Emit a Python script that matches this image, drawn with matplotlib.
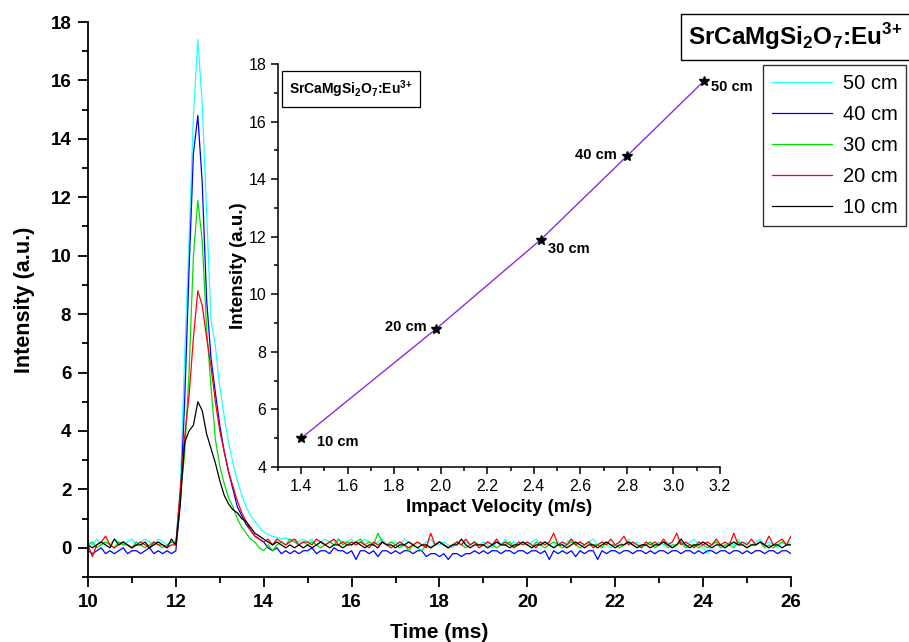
import matplotlib
matplotlib.use("Agg")
import matplotlib.pyplot as plt
import numpy as np
from matplotlib.ticker import MultipleLocator

plt.rcParams["font.family"] = ["Liberation Sans", "DejaVu Sans"]
plt.rcParams["mathtext.fontset"] = "custom"
plt.rcParams["mathtext.rm"] = "Liberation Sans"
plt.rcParams["mathtext.bf"] = "Liberation Sans:bold"

# time axis of the recorded pulses (ms), 0.1 ms sampling
time_ms = np.round(np.linspace(10.0, 26.0, 161), 1)

# intensity traces (a.u.) for each drop height
i_50cm = [
    0.2, 0.1, 0.3, 0.1, 0.2, 0.1, 0.3, 0.2, 0.1, 0.2, 0.3, 0.1, 0.2, 0.3, 0.2, 0.1, 0.3, 0.2, 0.1, 0.2,
    0.2, 2.0, 6.5, 10.5, 14.8, 17.4, 15.2, 11.5, 7.8, 6.9, 5.5, 4.5, 3.6, 2.9, 2.3, 1.8, 1.4, 1.1, 0.9, 0.7,
    0.55, 0.45, 0.4, 0.35, 0.3, 0.35, 0.25, 0.3, 0.2, 0.3,
    0.2, 0.3, 0.1, 0.2, 0.3, 0.2, 0.1, 0.3, 0.2, 0.2,
    0.3, 0.1, 0.2, 0.3, 0.2, 0.1, 0.2, 0.3, 0.1, 0.2,
    0.2, 0.1, 0.3, 0.2, 0.1, 0.2, 0.1, 0.2, 0.3, 0.1,
    0.1, 0.2, 0.1, 0.0, 0.2, 0.1, 0.2, 0.1, 0.2, 0.1,
    0.2, 0.1, 0.0, 0.2, 0.1, 0.3, 0.1, 0.2, 0.1, 0.2,
    0.1, 0.2, 0.3, 0.1, 0.2, 0.1, 0.0, 0.2, 0.1, 0.2,
    0.3, 0.1, 0.2, 0.1, 0.2, 0.3, 0.1, 0.2, 0.1, 0.0,
    0.1, 0.2, 0.1, 0.3, 0.1, 0.2, 0.0, 0.1, 0.2, 0.1,
    0.2, 0.1, 0.2, 0.0, 0.1, 0.2, 0.1, 0.2, 0.3, 0.1,
    0.0, -0.2, 0.1, 0.2, 0.1, 0.0, 0.2, 0.1, 0.3, 0.1,
    0.2, 0.1, 0.2, 0.3, 0.1, 0.2, 0.1, 0.0, 0.2, 0.1,
    0.2,
]
i_40cm = [
    -0.1, -0.2, -0.1, 0.0, -0.2, -0.1, -0.2, -0.1, 0.0, -0.2, -0.1, -0.1, -0.2, -0.1, 0.0, -0.2, -0.1, -0.2, -0.1, -0.2,
    -0.1, 1.5, 5.0, 9.5, 13.5, 14.8, 12.5, 8.5, 6.5, 5.3, 4.2, 3.3, 2.6, 2.0, 1.4, 1.1, 0.8, 0.6, 0.4, 0.3,
    0.2, 0.0, -0.1, 0.0, -0.2, -0.1, -0.2, -0.1, -0.2, -0.1,
    -0.1, 0.0, -0.2, -0.1, -0.1, -0.2, 0.0, -0.1, -0.1, -0.2,
    -0.1, -0.4, -0.1, -0.1, -0.2, -0.1, -0.3, -0.1, -0.1, -0.2,
    -0.1, -0.2, -0.1, -0.1, -0.2, -0.1, -0.1, -0.3, -0.2, -0.2,
    -0.3, -0.2, -0.4, -0.2, -0.2, -0.3, -0.2, -0.2, -0.1, -0.2,
    -0.1, -0.2, -0.1, -0.1, -0.2, -0.1, -0.1, -0.2, -0.1, -0.1,
    -0.2, -0.1, -0.1, -0.2, -0.1, -0.4, -0.1, -0.2, -0.1, -0.2,
    -0.1, -0.3, -0.1, -0.2, -0.1, -0.1, -0.4, -0.1, -0.2, -0.1,
    -0.1, -0.2, -0.1, -0.1, -0.2, -0.1, -0.1, -0.2, -0.1, -0.2,
    -0.1, -0.1, -0.2, -0.1, -0.1, -0.2, -0.1, -0.1, -0.2, -0.1,
    -0.2, -0.1, -0.1, -0.2, -0.1, -0.1, -0.2, -0.1, -0.1, -0.2,
    -0.1, -0.2, -0.1, -0.1, -0.2, -0.1, -0.1, -0.2, -0.1, -0.1,
    -0.2,
]
i_30cm = [
    0.1, 0.2, 0.0, 0.1, 0.2, 0.1, 0.0, 0.2, 0.1, 0.1, 0.0, 0.2, 0.1, 0.0, 0.1, 0.2, 0.1, 0.0, 0.1, 0.2,
    0.1, 1.8, 3.2, 6.0, 10.0, 11.9, 10.5, 7.5, 5.5, 3.7, 2.8, 2.2, 1.7, 1.4, 1.0, 0.7, 0.5, 0.3, 0.2, 0.0,
    -0.1, 0.1, -0.1, 0.1, 0.2, 0.1, 0.3, 0.2, 0.1, 0.2,
    0.1, 0.2, 0.1, 0.0, 0.1, 0.2, 0.1, 0.3, 0.1, 0.2,
    0.1, 0.2, 0.3, 0.1, 0.2, 0.1, 0.5, 0.2, 0.1, 0.2,
    0.1, 0.0, 0.1, -0.1, 0.1, 0.0, -0.1, 0.1, 0.0, 0.1,
    0.2, 0.1, 0.0, 0.1, 0.2, 0.1, 0.0, 0.1, 0.2, 0.1,
    0.1, 0.2, 0.1, 0.0, 0.1, 0.1, 0.2, 0.0, 0.1, 0.2,
    0.1, 0.0, 0.2, 0.1, 0.0, 0.1, 0.2, 0.1, 0.0, 0.1,
    0.2, 0.1, 0.0, 0.1, 0.2, 0.1, 0.1, 0.0, 0.2, 0.1,
    0.1, 0.0, 0.1, 0.2, 0.1, 0.0, 0.1, 0.1, 0.2, 0.0,
    0.1, 0.2, 0.0, 0.1, 0.1, 0.2, 0.0, 0.1, 0.1, 0.0,
    0.1, 0.0, 0.1, 0.2, 0.0, 0.1, 0.1, 0.0, 0.2, 0.1,
    0.0, 0.1, 0.1, 0.2, 0.0, 0.1, 0.0, 0.1, 0.2, 0.1,
    0.1,
]
i_20cm = [
    0.1, -0.3, 0.1, 0.2, 0.4, 0.1, 0.0, 0.1, 0.2, 0.1, 0.0, 0.1, 0.2, 0.1, 0.0, 0.2, 0.1, 0.1, 0.0, 0.1,
    0.1, 2.0, 3.8, 5.2, 7.2, 8.8, 8.3, 7.2, 6.2, 5.0, 4.0, 3.3, 2.6, 2.1, 1.6, 1.2, 0.9, 0.6, 0.4, 0.3,
    0.2, 0.3, 0.1, 0.3, 0.2, 0.1, 0.2, 0.3, 0.1, 0.2,
    0.2, 0.1, 0.3, 0.2, 0.1, 0.2, 0.3, 0.1, 0.2, 0.1,
    0.2, 0.1, 0.2, 0.1, 0.0, 0.2, 0.1, 0.2, 0.1, 0.0,
    0.1, 0.2, 0.1, 0.0, 0.1, 0.2, 0.1, 0.0, 0.5, 0.1,
    0.2, 0.1, 0.0, 0.1, 0.2, 0.1, 0.3, 0.1, 0.2, 0.0,
    0.1, 0.2, 0.1, 0.3, 0.1, 0.2, 0.1, 0.0, 0.2, 0.1,
    0.2, 0.1, 0.0, 0.2, 0.1, 0.2, 0.5, 0.1, 0.2, 0.1,
    0.3, 0.1, 0.2, 0.1, 0.2, 0.0, 0.1, 0.2, 0.1, 0.3,
    0.1, 0.2, 0.4, 0.1, 0.2, 0.1, 0.0, 0.2, 0.1, 0.2,
    0.1, 0.3, 0.1, 0.2, 0.5, 0.1, 0.2, 0.1, 0.0, 0.2,
    0.1, 0.2, 0.1, 0.3, 0.1, 0.2, 0.1, 0.5, 0.1, 0.2,
    0.1, 0.3, 0.1, 0.2, 0.1, 0.4, 0.1, 0.2, 0.3, 0.1,
    0.4,
]
i_10cm = [
    0.1, 0.0, 0.1, 0.2, 0.1, 0.0, 0.3, 0.1, 0.2, 0.1, 0.0, 0.1, 0.1, 0.2, 0.0, 0.1, 0.2, 0.1, 0.0, 0.3,
    0.1, 1.5, 3.6, 4.0, 4.2, 5.0, 4.7, 3.9, 3.4, 2.9, 2.3, 1.8, 1.5, 1.3, 1.2, 1.0, 0.9, 0.7, 0.5, 0.4,
    0.3, 0.2, 0.1, 0.2, 0.1, 0.0, 0.1, 0.0, 0.1, 0.0,
    0.1, 0.0, 0.1, 0.2, 0.1, 0.0, 0.1, 0.1, 0.0, 0.1,
    0.1, 0.2, 0.1, 0.0, 0.1, 0.1, 0.0, 0.2, 0.1, 0.1,
    0.0, 0.1, 0.1, 0.2, 0.1, 0.0, 0.1, 0.1, 0.0, 0.1,
    0.2, 0.1, 0.0, 0.1, 0.1, 0.3, 0.1, 0.0, 0.1, 0.1,
    0.1, 0.0, 0.1, 0.2, 0.1, 0.1, 0.0, 0.1, 0.1, 0.2,
    0.1, 0.0, 0.1, 0.1, 0.2, 0.1, 0.0, 0.1, 0.1, 0.0,
    0.1, 0.2, 0.1, 0.0, 0.1, 0.1, 0.0, 0.1, 0.2, 0.1,
    0.0, 0.1, 0.1, 0.2, 0.1, 0.0, 0.1, 0.1, 0.0, 0.1,
    0.1, 0.2, 0.1, 0.0, 0.1, 0.3, 0.1, 0.0, 0.1, 0.1,
    0.2, 0.1, 0.0, 0.1, 0.1, 0.0, 0.1, 0.2, 0.1, 0.1,
    0.0, 0.1, 0.1, 0.2, 0.1, 0.0, 0.1, 0.1, 0.0, 0.1,
    0.1,
]

series_labels = ["50 cm", "40 cm", "30 cm", "20 cm", "10 cm"]
series_colors = ["#22ffff", "#0000ff", "#00e000", "#ff0000", "#000000"]

# inset: peak intensity versus impact velocity
velocity = [1.40, 1.98, 2.43, 2.80, 3.13]
peak_intensity = [5.0, 8.8, 11.9, 14.8, 17.4]
point_labels = ["10 cm", "20 cm", "30 cm", "40 cm", "50 cm"]

compound = r"SrCaMgSi$_\mathbf{2}$O$_\mathbf{7}$:Eu$^\mathbf{3}$$^\mathbf{+}$"

fig = plt.figure(figsize=(9.09, 6.42), dpi=100)
ax = fig.add_axes([0.0968, 0.1012, 0.7733, 0.8645])

traces = [i_50cm, i_40cm, i_30cm, i_20cm, i_10cm]
for vals, lab, col in zip(traces, series_labels, series_colors):
    ax.plot(time_ms, vals, color=col, lw=0.9, label=lab)

ax.set_xlim(10, 26)
ax.set_ylim(-1, 18)
ax.xaxis.set_major_locator(MultipleLocator(2))
ax.xaxis.set_minor_locator(MultipleLocator(1))
ax.yaxis.set_major_locator(MultipleLocator(2))
ax.yaxis.set_minor_locator(MultipleLocator(1))
for s in ["top", "right"]:
    ax.spines[s].set_visible(False)
for s in ["left", "bottom"]:
    ax.spines[s].set_linewidth(1.3)
ax.tick_params(which="major", length=7, width=1.3, labelsize=13.5, pad=5)
ax.tick_params(which="minor", length=4, width=1.3)
for t in ax.get_xticklabels() + ax.get_yticklabels():
    t.set_fontweight("bold")
ax.set_xlabel("Time (ms)", fontsize=15, fontweight="bold", labelpad=9)
ax.set_ylabel("Intensity (a.u.)", fontsize=15.5, fontweight="bold", labelpad=11)

leg = ax.legend(loc="upper left", bbox_to_anchor=(763 / 909, 1 - 65 / 642),
                bbox_transform=fig.transFigure, fontsize=14.5, frameon=True,
                fancybox=False, edgecolor="black", handlelength=3.0,
                borderpad=0.45, labelspacing=0.6, handletextpad=0.5,
                borderaxespad=0)
leg.get_frame().set_linewidth(1.0)

fig.text(688 / 909, 1 - 37 / 642, compound, fontsize=17.5, fontweight="bold",
         ha="left", va="center",
         bbox=dict(boxstyle="square,pad=0.3", fc="white", ec="black", lw=1.0))

# inset axes
ins = fig.add_axes([0.3058, 0.2726, 0.4862, 0.6277])
ins.plot(velocity, peak_intensity, color="#8a2be2", lw=1.0, zorder=1)
ins.plot(velocity, peak_intensity, ls="none", marker="*", ms=7, color="black", zorder=2)
offsets = [(11, -3), (-37, 1), (5, -7), (-37, 1), (5, -4)]
for x, y, lab, off in zip(velocity, peak_intensity, point_labels, offsets):
    ins.annotate(lab, (x, y), xytext=off, textcoords="offset points",
                 fontsize=10.5, fontweight="bold", ha="left", va="center")
ins.set_xlim(1.3, 3.2)
ins.set_ylim(4, 18)
ins.xaxis.set_minor_locator(MultipleLocator(0.1))
ins.yaxis.set_major_locator(MultipleLocator(2))
ins.yaxis.set_minor_locator(MultipleLocator(1))
ins.set_xticks(np.round(np.arange(1.4, 3.21, 0.2), 1))
for s in ["top", "right"]:
    ins.spines[s].set_visible(False)
for s in ["left", "bottom"]:
    ins.spines[s].set_linewidth(1.1)
ins.tick_params(which="major", length=5, width=1.1, labelsize=11.5)
ins.tick_params(which="minor", length=3, width=1.1)
ins.set_xlabel("Impact Velocity (m/s)", fontsize=13.5, fontweight="bold", labelpad=4)
ins.set_ylabel("Intensity (a.u.)", fontsize=13.5, fontweight="bold", labelpad=1)
ins.text(0.025, 0.965, compound, transform=ins.transAxes, fontsize=10,
         fontweight="bold", ha="left", va="top",
         bbox=dict(boxstyle="square,pad=0.5", fc="white", ec="black", lw=0.9))

fig.savefig("out.png", dpi=100)
